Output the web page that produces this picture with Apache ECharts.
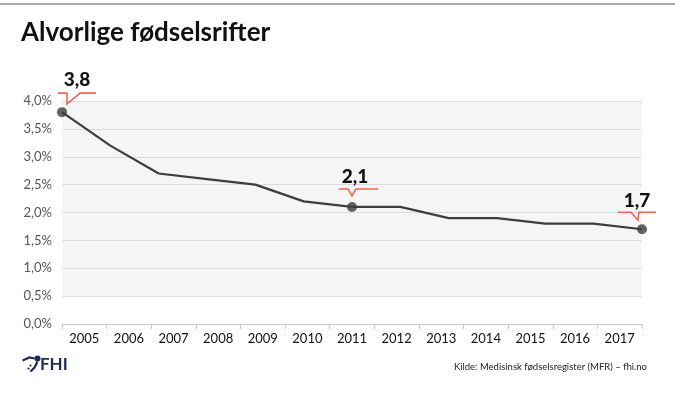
<!DOCTYPE html>
<html>
<head>
<meta charset="utf-8">
<script src="https://cdn.jsdelivr.net/npm/echarts@6/dist/echarts.min.js"></script>
<style>
  html, body { margin: 0; padding: 0; background: #fff; }
  #chart { width: 675px; height: 399px; }
</style>
</head>
<body>
<div id="chart"></div>
<script>
// data
const years = ['2005', '2006', '2007', '2008', '2009', '2010', '2011', '2012', '2013', '2014', '2015', '2016', '2017'];
const rates = [3.8, 3.2, 2.7, 2.6, 2.5, 2.2, 2.1, 2.1, 1.9, 1.9, 1.8, 1.8, 1.7];
// highlighted points: index in years, callout shape
const highlightIdx = [0, 6, 12];
const highlightShape = ['left', 'mid', 'right'];

const fmt = v => v.toFixed(1).replace('.', ',');
const RED = '#f0645a';

const chart = echarts.init(document.getElementById('chart'));

// callout line shapes relative to the point (dx, dy)
function calloutPoints(kind) {
  if (kind === 'left') return { pts: [[-4, -19], [5, -19], [5, -8], [18, -19], [34, -19]], tx: 15, ty: -32 };
  if (kind === 'right') return { pts: [[-24, -17], [-11, -17], [-4, -9], [-3, -17], [14, -17]], tx: -5, ty: -28 };
  return { pts: [[-13, -18], [-4, -18], [0, -11], [4, -18], [26, -18]], tx: 3, ty: -30 };
}

const option = {
  animation: false,
  backgroundColor: '#fff',
  grid: { left: 62, right: 33, top: 101, bottom: 75 },
  graphic: [
    { type: 'rect', left: 0, top: 3, shape: { width: 675, height: 2 }, style: { fill: '#acacac' } },
    { type: 'text', left: 21, top: 20, style: { text: 'Alvorlige fødselsrifter', font: 'bold 26px Lato', fill: '#111' } },
    // FHI logo (approximation)
    { type: 'group', left: 20, top: 355, children: [
      { type: 'polyline', shape: { points: [[0, 5], [7, 2], [12, 3]] }, style: { stroke: '#1e2a57', lineWidth: 2.2, fill: null } },
      { type: 'circle', shape: { cx: 15, cy: 3, r: 3 }, style: { fill: '#1e2a57' } },
      { type: 'polyline', shape: { points: [[15, 6], [12, 12], [8, 16]] }, style: { stroke: '#1e2a57', lineWidth: 2.2, fill: null } },
      { type: 'circle', shape: { cx: 8, cy: 10, r: 1.1 }, style: { fill: '#1e2a57' } },
      { type: 'circle', shape: { cx: 6, cy: 13, r: 1.1 }, style: { fill: '#1e2a57' } }
    ] },
    { type: 'text', left: 40, top: 356, style: { text: 'FHI', font: 'bold 17px Lato', fill: '#1e2a57' } },
    { type: 'text', right: 28, top: 362, style: { text: 'Kilde: Medisinsk fødselsregister (MFR) – fhi.no', font: '9.5px Lato', fill: '#222' } }
  ],
  xAxis: [
    {
      type: 'category',
      data: years,
      boundaryGap: true,
      axisLine: { show: true, lineStyle: { color: '#c8c8c8' } },
      axisTick: { show: true, length: 5, lineStyle: { color: '#c8c8c8' } },
      axisLabel: { color: '#111', fontSize: 13, fontFamily: 'Lato', margin: 8 },
      splitLine: { show: false }
    },
    {
      type: 'category',
      data: years,
      boundaryGap: false,
      show: false
    }
  ],
  yAxis: {
    type: 'value',
    min: 0,
    max: 4,
    interval: 0.5,
    axisLine: { show: false },
    axisTick: { show: false },
    axisLabel: { color: '#555', fontSize: 13, fontFamily: 'Lato', margin: 10, formatter: v => fmt(v) + '%' },
    splitLine: { lineStyle: { color: '#dcdcdc', width: 1 } },
    splitArea: { show: true, areaStyle: { color: ['#ffffff', '#f5f5f5', '#f5f5f5', '#f5f5f5', '#f5f5f5', '#f5f5f5', '#f5f5f5', '#f5f5f5'] } }
  },
  series: [
    {
      type: 'line',
      xAxisIndex: 1,
      data: rates,
      symbol: 'none',
      lineStyle: { color: '#3d3d3d', width: 2.2 },
      z: 3
    },
    {
      type: 'scatter',
      xAxisIndex: 1,
      data: highlightIdx.map(i => [i, rates[i]]),
      symbolSize: 10,
      itemStyle: { color: '#3d3d3d' },
      z: 5
    },
    {
      type: 'custom',
      xAxisIndex: 1,
      data: highlightIdx.map((i, k) => [i, rates[i], k]),
      clip: false,
      z: 6,
      renderItem: (params, api) => {
        const p = api.coord([api.value(0), api.value(1)]);
        const c = calloutPoints(highlightShape[api.value(2)]);
        return {
          type: 'group',
          children: [
            { type: 'polyline', shape: { points: c.pts.map(q => [p[0] + q[0], p[1] + q[1]]) }, style: { stroke: RED, lineWidth: 1.6, fill: null } },
            { type: 'text', style: { text: fmt(api.value(1)), x: p[0] + c.tx, y: p[1] + c.ty, font: '900 19px Lato', fill: '#111', align: 'center', verticalAlign: 'middle' } }
          ]
        };
      }
    }
  ]
};

chart.setOption(option);
</script>
</body>
</html>
